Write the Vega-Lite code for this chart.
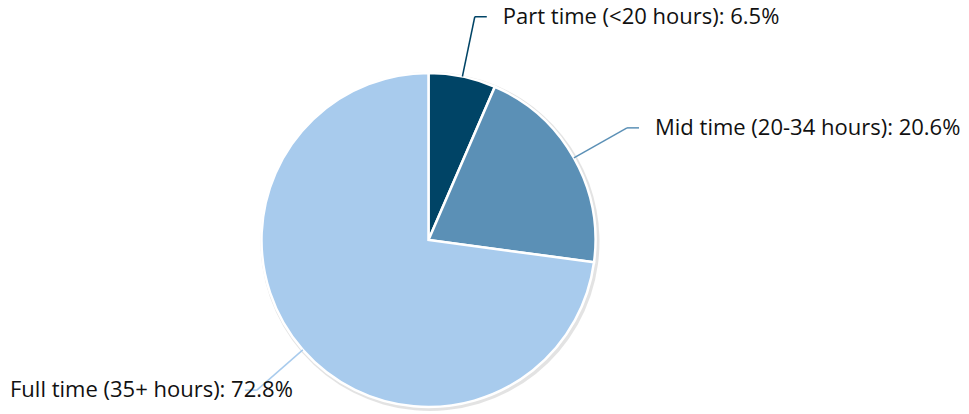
{
  "$schema": "https://vega.github.io/schema/vega-lite/v6.json",
  "width": 969,
  "height": 414,
  "autosize": {"type": "none"},
  "padding": 0,
  "background": "white",
  "config": {"view": {"stroke": null}, "font": "Open Sans"},
  "data": {
    "values": [
      {"category": "Part time (<20 hours)", "value": 6.5},
      {"category": "Mid time (20-34 hours)", "value": 20.6},
      {"category": "Full time (35+ hours)", "value": 72.8}
    ]
  },
  "transform": [
    {"window": [{"op": "row_number", "as": "idx"}]},
    {"stack": "value", "groupby": [], "sort": [{"field": "idx"}], "as": ["v0", "v1"]},
    {"joinaggregate": [{"op": "sum", "field": "value", "as": "total"}]},
    {"calculate": "PI*(datum.v0+datum.v1)/datum.total", "as": "ang"},
    {"calculate": "167*sin(datum.ang)", "as": "ax"},
    {"calculate": "-167*cos(datum.ang)", "as": "ay"},
    {"calculate": "228*sin(datum.ang)", "as": "bx"},
    {"calculate": "-228*cos(datum.ang)", "as": "by"},
    {"calculate": "datum.bx + (sin(datum.ang) > 0 ? 12 : -12)", "as": "cx"},
    {"calculate": "sin(datum.ang) > 0 ? datum.cx + 16 : -418.5", "as": "lx"},
    {"calculate": "datum.category + ': ' + format(datum.value, '.1f') + '%'", "as": "label"}
  ],
  "layer": [
    {
      "mark": {"type": "arc", "outerRadius": 169.5, "fill": "#c8c8c8", "opacity": 0.5, "stroke": null},
      "encoding": {
        "x": {"datum": 1.5, "type": "quantitative", "scale": {"domain": [-428.5, 540.5], "nice": false, "zero": false}, "axis": null},
        "y": {"datum": 1.5, "type": "quantitative", "scale": {"domain": [-240, 174], "nice": false, "zero": false, "reverse": true}, "axis": null},
        "theta": {"field": "value", "type": "quantitative", "stack": true},
        "order": {"field": "idx", "type": "quantitative"}
      }
    },
    {
      "mark": {"type": "arc", "outerRadius": 167, "stroke": "white", "strokeWidth": 2.5},
      "encoding": {
        "x": {"datum": 0, "type": "quantitative", "scale": {"domain": [-428.5, 540.5], "nice": false, "zero": false}, "axis": null},
        "y": {"datum": 0, "type": "quantitative", "scale": {"domain": [-240, 174], "nice": false, "zero": false, "reverse": true}, "axis": null},
        "theta": {"field": "value", "type": "quantitative", "stack": true},
        "order": {"field": "idx", "type": "quantitative"},
        "color": {
          "field": "category",
          "type": "nominal",
          "scale": {
            "domain": ["Part time (<20 hours)", "Mid time (20-34 hours)", "Full time (35+ hours)"],
            "range": ["#004466", "#5b90b6", "#a8cbed"]
          },
          "legend": null
        }
      }
    },
    {
      "mark": {"type": "rule", "strokeWidth": 1.5},
      "encoding": {
        "x": {"field": "ax", "type": "quantitative", "scale": {"domain": [-428.5, 540.5], "nice": false, "zero": false}, "axis": null},
        "y": {"field": "ay", "type": "quantitative", "scale": {"domain": [-240, 174], "nice": false, "zero": false, "reverse": true}, "axis": null},
        "x2": {"field": "bx"},
        "y2": {"field": "by"},
        "color": {"field": "category", "type": "nominal", "legend": null}
      }
    },
    {
      "mark": {"type": "rule", "strokeWidth": 1.5},
      "encoding": {
        "x": {"field": "bx", "type": "quantitative", "scale": {"domain": [-428.5, 540.5], "nice": false, "zero": false}, "axis": null},
        "y": {"field": "by", "type": "quantitative", "scale": {"domain": [-240, 174], "nice": false, "zero": false, "reverse": true}, "axis": null},
        "x2": {"field": "cx"},
        "y2": {"field": "by"},
        "color": {"field": "category", "type": "nominal", "legend": null}
      }
    },
    {
      "mark": {"type": "text", "align": "left", "baseline": "middle", "fontSize": 22, "color": "#111111"},
      "encoding": {
        "x": {"field": "lx", "type": "quantitative", "scale": {"domain": [-428.5, 540.5], "nice": false, "zero": false}, "axis": null},
        "y": {"field": "by", "type": "quantitative", "scale": {"domain": [-240, 174], "nice": false, "zero": false, "reverse": true}, "axis": null},
        "text": {"field": "label", "type": "nominal"}
      }
    }
  ]
}
